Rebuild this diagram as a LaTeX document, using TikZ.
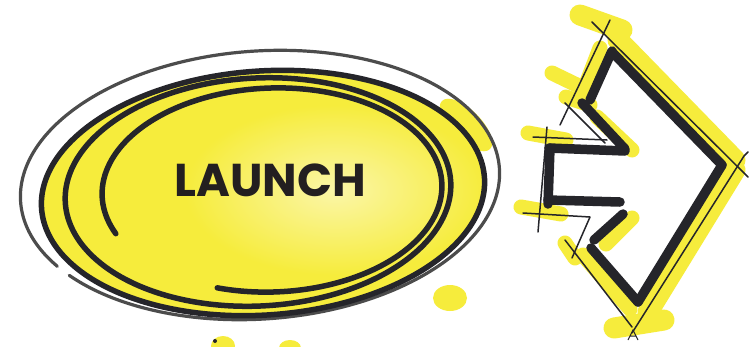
\documentclass[tikz,border=0pt]{standalone}
\usepackage{fontspec}
\newfontfamily\labelfont{Poppins}
\definecolor{yel}{HTML}{F6EC3C}
\definecolor{yellight}{HTML}{FBF6A8}
\definecolor{ink}{HTML}{25252A}
\definecolor{txt}{HTML}{231F20}
\tikzset{
  scrib/.style={line width=5.5pt, color=ink, line cap=round, line join=round},
  pencil/.style={line width=3.2pt, color=black!70, line cap=round},
  thick stroke/.style={line width=9.5pt, color=ink, line cap=round},
  thin stroke/.style={line width=1.5pt, color=ink, line cap=round, line join=round},
  hl/.style={line width=21pt, color=yel, line cap=round},
  hlthin/.style={line width=15pt, color=yel, line cap=round},
}
\begin{document}
\begin{tikzpicture}[x=1pt,y=-1pt]
\useasboundingbox (0,0) rectangle (749,346);
\fill[white] (0,0) rectangle (749,346);

% ---------- yellow fill of the oval ----------
\fill[yel] plot[domain=0:360, samples=120, smooth, variable=\t]
  ({263 + 222*cos(\t)*cos(-4) - 122*sin(\t)*sin(-4)}, {193 + 222*cos(\t)*sin(-4) + 122*sin(\t)*cos(-4)});
\fill[yel, rotate around={-45:(466,125)}] (466,125) ellipse [x radius=34, y radius=15];
\shade[inner color=yellight, outer color=yel] (335,190) ellipse [x radius=150, y radius=85];

% yellow spots
\fill[yel] (450,298) ellipse [x radius=17, y radius=13];
\fill[yel] (223,346) ellipse [x radius=12, y radius=10];
\fill[yel] (290,348) ellipse [x radius=11, y radius=8];
\fill[ink] (215,341) circle [radius=2];

% ---------- scribbled loops ----------
\draw[pencil] plot[domain=150:505, samples=140, smooth, variable=\t]
  ({260 + 240*cos(\t)*cos(-4) - 134*sin(\t)*sin(-4)}, {185 + 240*cos(\t)*sin(-4) + 134*sin(\t)*cos(-4)});
\draw[scrib] plot[domain=0:360, samples=140, smooth, variable=\t]
  ({263 + 222*cos(\t)*cos(-4) - 122*sin(\t)*sin(-4)}, {193 + 222*cos(\t)*sin(-4) + 122*sin(\t)*cos(-4)});
\draw[scrib] plot[domain=0:360, samples=140, smooth, variable=\t]
  ({258 + 193*cos(\t)*cos(-3) - 114*sin(\t)*sin(-3)}, {192 + 193*cos(\t)*sin(-3) + 114*sin(\t)*cos(-3)});
\draw[scrib] plot[domain=158:470, samples=140, smooth, variable=\t]
  ({272 + 170*cos(\t)*cos(-2) - 102*sin(\t)*sin(-2)}, {190 + 170*cos(\t)*sin(-2) + 102*sin(\t)*cos(-2)});

% ---------- label ----------
\node[font=\labelfont\bfseries\fontsize{46}{46}\selectfont, text=txt] (launch) at (270,180) {LAUNCH};

% ---------- arrow: highlighter ----------
\draw[hl] (580,15) -- (622,30);
\draw[hl] (618,40) -- (735,160);
\draw[hl] (735,170) -- (648,312);
\draw[hl] (614,328) -- (664,320);
\draw[hlthin] (600,48) -- (580,100);
\draw[hlthin] (552,73) -- (583,88);
\draw[hlthin] (566,97) -- (590,105);
\draw[hlthin] (528,133) -- (566,140);
\draw[hlthin] (521,207) -- (561,214);
\draw[hlthin] (597,117) -- (632,150);
\draw[hlthin] (632,218) -- (606,244);
\draw[hlthin] (583,255) -- (630,309);
\draw[hlthin] (565,243) -- (575,258);

% ---------- arrow: thick outline ----------
\draw[thick stroke] (590,100) -- (612,51);
\draw[thick stroke] (612,52) -- (722,165);
\draw[thick stroke] (722,165) -- (638,302);
\draw[thick stroke] (638,302) -- (591,248);
\draw[thick stroke] (594,240) -- (623,214);
\draw[thick stroke] (548,200) -- (620,202);
\draw[thick stroke] (550,148) -- (548,204);
\draw[thick stroke] (549,148) -- (625,151);
\draw[thick stroke] (625,149) -- (582,103);

% ---------- arrow: thin pen lines ----------
\draw[thin stroke] (592,22) -- (748,177);
\draw[thin stroke] (610,20) -- (560,125);
\draw[thin stroke] (565,103) -- (605,143);
\draw[thin stroke] (533,137) -- (607,140);
\draw[thin stroke] (547,127) -- (538,232);
\draw[thin stroke] (523,213) -- (590,217) -- (572,258);
\draw[thin stroke] (565,240) -- (632,327);
\draw[thin stroke] (632,333) -- (744,156) -- (748,152);
\draw[line width=1pt, color=ink] (628,340) -- (633,330) -- (638,340) (630,336) -- (636,336);
\end{tikzpicture}
\end{document}
